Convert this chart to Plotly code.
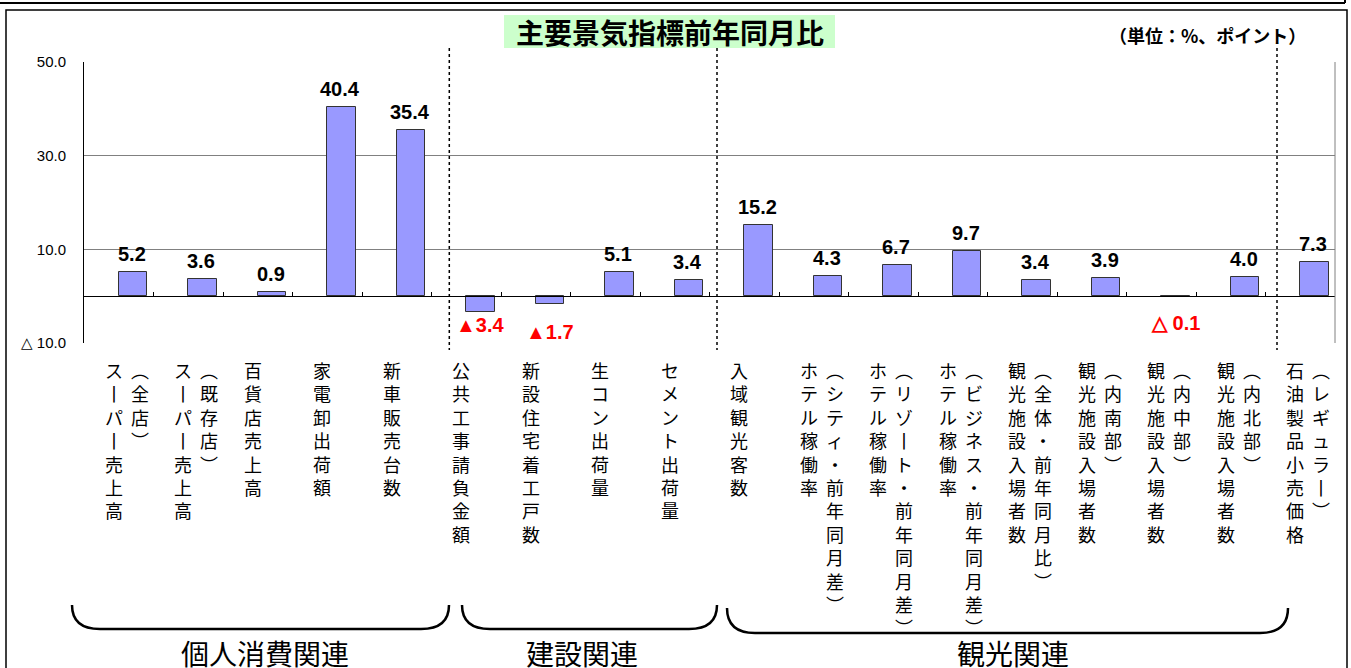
import plotly.graph_objects as go

# data
categories = [
    "スーパー売上高（全店）", "スーパー売上高（既存店）", "百貨店売上高", "家電卸出荷額", "新車販売台数",
    "公共工事請負金額", "新設住宅着工戸数", "生コン出荷量", "セメント出荷量",
    "入域観光客数", "ホテル稼働率（シティ・前年同月差）", "ホテル稼働率（リゾート・前年同月差）",
    "ホテル稼働率（ビジネス・前年同月差）", "観光施設入場者数（全体・前年同月比）",
    "観光施設入場者数（内南部）", "観光施設入場者数（内中部）", "観光施設入場者数（内北部）",
    "石油製品小売価格（レギュラー）",
]
values = [5.2, 3.6, 0.9, 40.4, 35.4, -3.4, -1.7, 5.1, 3.4, 15.2, 4.3, 6.7, 9.7, 3.4, 3.9, -0.1, 4.0, 7.3]
group_names = ["個人消費関連", "建設関連", "観光関連"]
y_tickvals = [50, 30, 10, -10]
y_ticktext = ["50.0", "30.0", "10.0", "△ 10.0"]
title_text = "主要景気指標前年同月比"
unit_text = "（単位：%、ポイント）"

# page geometry (pixels) -> paper coords
W, H = 1351, 668
L, R, T, B = 84, 1335, 62, 343


def px(x):
    return (x - L) / (R - L)


def py(y):
    return (B - y) / (B - T)


JP = "Noto Sans CJK JP"
NUM = "Liberation Sans, Arial, sans-serif"

VERT = {"ー": "丨", "（": "︵", "）": "︶"}


def vertical(s):
    return "<br>".join(VERT.get(c, c) for c in s)


def value_label(v):
    if v >= 0:
        return f"{v:.1f}"
    return ("▲" if v <= -1 else "△ ") + f"{-v:.1f}"


fig = go.Figure()
fig.add_trace(go.Bar(
    x=categories, y=values, width=0.41, offset=0,
    marker=dict(color="#9999FF", line=dict(color="#333333", width=1)),
    showlegend=False, hoverinfo="x+y",
))

annotations = []
shapes = []

# value labels
neg_shift = {5: -13, 6: -28, 15: -26}
for i, (cat, v) in enumerate(zip(categories, values)):
    if v >= 0:
        annotations.append(dict(x=cat, y=v, xref="x", yref="y", text=value_label(v),
                                showarrow=False, yanchor="middle", yshift=18, xshift=13,
                                font=dict(family=NUM, size=20, color="black", weight="bold")))
    else:
        annotations.append(dict(x=cat, y=v, xref="x", yref="y", text=value_label(v),
                                showarrow=False, yanchor="middle", yshift=neg_shift.get(i, -16),
                                xshift=14,
                                font=dict(family=NUM, size=20, color="#FF0000", weight="bold")))

# vertical category labels
for cat in categories:
    if "（" in cat:
        main, sub = cat.split("（", 1)
        sub = "（" + sub
    else:
        main, sub = cat, ""
    annotations.append(dict(x=cat, y=py(355), xref="x", yref="paper", text=vertical(main),
                            showarrow=False, yanchor="top", xshift=-5,
                            font=dict(family=JP, size=18, color="black")))
    if sub:
        annotations.append(dict(x=cat, y=py(355), xref="x", yref="paper", text=vertical(sub),
                                showarrow=False, yanchor="top", xshift=21,
                                font=dict(family=JP, size=18, color="black")))

# group braces and names
brace_px = [(72, 449, 605, 629), (462, 717, 605, 629), (727, 1288, 608, 633)]
name_px = [265, 582, 1013]
for (x0, x1, yt, yb), nx, name in zip(brace_px, name_px, group_names):
    r = 28
    path = (f"M {px(x0)},{py(yt)} Q {px(x0)},{py(yb)} {px(x0 + r)},{py(yb)} "
            f"L {px(x1 - r)},{py(yb)} Q {px(x1)},{py(yb)} {px(x1)},{py(yt)}")
    shapes.append(dict(type="path", path=path, xref="paper", yref="paper",
                       line=dict(color="black", width=2.5)))
    annotations.append(dict(x=px(nx), y=py(653), xref="paper", yref="paper", text=name,
                            showarrow=False, xanchor="center", yanchor="middle",
                            font=dict(family=JP, size=28, color="black")))

# dotted separators
for sx in [449.3, 717, 1277]:
    shapes.append(dict(type="line", xref="paper", yref="paper", x0=px(sx), x1=px(sx),
                       y0=py(48), y1=py(350), line=dict(color="black", width=1.5, dash="dot")))

# plot area right edge
shapes.append(dict(type="line", xref="paper", yref="paper", x0=1, x1=1, y0=0, y1=1,
                   line=dict(color="#808080", width=1)))

# title box
shapes.append(dict(type="rect", xref="paper", yref="paper", x0=px(504), x1=px(835),
                   y0=py(48), y1=py(15), fillcolor="#CCFFCC", line=dict(width=0), layer="below"))
annotations.append(dict(x=px(669.5), y=py(31.5), xref="paper", yref="paper", text=title_text,
                        showarrow=False, xanchor="center", yanchor="middle",
                        font=dict(family=JP, size=28, color="black", weight="bold")))
annotations.append(dict(x=px(1308), y=py(35), xref="paper", yref="paper", text=unit_text,
                        showarrow=False, xanchor="right", yanchor="middle",
                        font=dict(family=JP, size=18, color="black", weight="bold")))

# outer frames
shapes.append(dict(type="line", xref="paper", yref="paper", x0=px(0), x1=px(1345),
                   y0=py(3), y1=py(3), line=dict(color="black", width=2)))
shapes.append(dict(type="line", xref="paper", yref="paper", x0=px(1345), x1=px(1345),
                   y0=py(0), y1=py(3), line=dict(color="black", width=2)))
shapes.append(dict(type="rect", xref="paper", yref="paper", x0=px(6), x1=px(1347),
                   y0=py(680), y1=py(10), line=dict(color="black", width=1.5)))

fig.update_layout(
    width=W, height=H,
    margin=dict(l=L, r=W - R, t=T, b=H - B),
    paper_bgcolor="white", plot_bgcolor="white",
    bargap=0,
    xaxis=dict(type="category", range=[-0.5, len(categories) - 0.5], anchor="free",
               position=10 / 60, showline=True, linecolor="black", linewidth=1,
               ticks="inside", ticklen=4, tickcolor="black", tickson="boundaries",
               showticklabels=False, showgrid=False, zeroline=False),
    yaxis=dict(range=[-10, 50], tickvals=y_tickvals, ticktext=y_ticktext,
               showgrid=True, gridcolor="#808080", gridwidth=1,
               showline=True, linecolor="black", linewidth=1, zeroline=False,
               ticks="", ticklabelstandoff=14,
               tickfont=dict(family=NUM, size=15, color="black")),
    annotations=annotations,
    shapes=shapes,
)

# page body margin would shift the whole figure by 8px
fig.write_html("out.html", config={"displayModeBar": False},
               post_script="document.body.style.margin='0';")
